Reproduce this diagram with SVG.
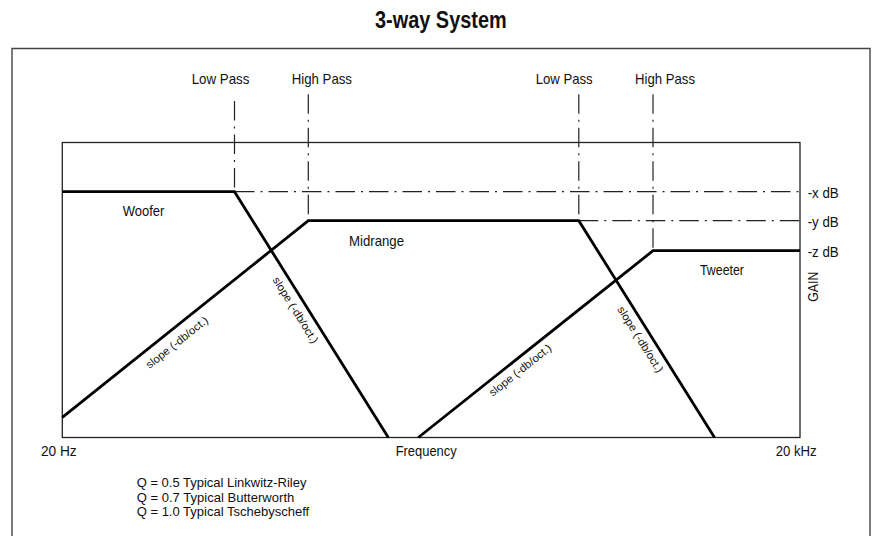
<svg xmlns="http://www.w3.org/2000/svg" width="875" height="536" viewBox="0 0 875 536">
<style>
.t{font-family:"Liberation Sans",Arial,sans-serif;font-size:14.5px;fill:#111;}
.q{font-family:"Liberation Sans",Arial,sans-serif;font-size:13px;fill:#111;}
.s{font-family:"Liberation Sans",Arial,sans-serif;font-size:11px;fill:#111;text-anchor:middle;}
.title{font-family:"Liberation Sans",Arial,sans-serif;font-size:24.5px;font-weight:bold;fill:#111;}
.curve{fill:none;stroke:#000;stroke-width:2.8;stroke-linejoin:miter;}
.dd{fill:none;stroke:#222;stroke-width:1.2;stroke-dasharray:19.5 6 2 6;}
.frame{fill:none;stroke:#444;stroke-width:1.4;}
.box{fill:none;stroke:#222;stroke-width:1.3;}
</style>
<rect width="875" height="536" fill="#fff"/>
<text class="title" x="375" y="28.3" textLength="131.7" lengthAdjust="spacingAndGlyphs">3-way System</text>
<path class="frame" d="M12,540 V48.5 H870 V540"/>
<rect class="box" x="62.3" y="142.5" width="737.7" height="295"/>
<g id="guides">
<path class="dd" d="M234.5,101 V191.7"/>
<path class="dd" d="M308.3,94.3 V220.7"/>
<path class="dd" d="M578.8,94.3 V220.7"/>
<path class="dd" d="M653,94.3 V250.7"/>
<path class="dd" d="M235,191.7 H800"/>
<path class="dd" d="M578.8,220.7 H800"/>
</g>
<g id="curves">
<path id="woofer" class="curve" d="M62.3,191.7 H234.5 L388.3,437.5"/>
<path id="midrange" class="curve" d="M62.3,417.3 L308.3,220.7 H578.8 L714.5,437.5"/>
<path id="tweeter" class="curve" d="M418.3,437.5 L653,250.7 H800"/>
</g>
<g id="labels">
<text class="t" x="191.7" y="84.3" textLength="57.7" lengthAdjust="spacingAndGlyphs">Low Pass</text>
<text class="t" x="291.7" y="84.3" textLength="60.3" lengthAdjust="spacingAndGlyphs">High Pass</text>
<text class="t" x="535.7" y="84.3" textLength="57" lengthAdjust="spacingAndGlyphs">Low Pass</text>
<text class="t" x="635" y="84.3" textLength="60" lengthAdjust="spacingAndGlyphs">High Pass</text>
<text class="t" x="807.7" y="198.3" textLength="31" lengthAdjust="spacingAndGlyphs">-x dB</text>
<text class="t" x="807.7" y="227" textLength="31" lengthAdjust="spacingAndGlyphs">-y dB</text>
<text class="t" x="807.7" y="256.5" textLength="31" lengthAdjust="spacingAndGlyphs">-z dB</text>
<text class="t" transform="translate(818.3,301.7) rotate(-90)" textLength="30" lengthAdjust="spacingAndGlyphs">GAIN</text>
<text class="t" x="122.7" y="216" textLength="41.7" lengthAdjust="spacingAndGlyphs">Woofer</text>
<text class="t" x="349" y="246" textLength="55" lengthAdjust="spacingAndGlyphs">Midrange</text>
<text class="t" x="700" y="275" textLength="44" lengthAdjust="spacingAndGlyphs">Tweeter</text>
<text class="t" x="41" y="455.7" textLength="35.7" lengthAdjust="spacingAndGlyphs">20 Hz</text>
<text class="t" x="395.7" y="455.7" textLength="61" lengthAdjust="spacingAndGlyphs">Frequency</text>
<text class="t" x="775.7" y="455.7" textLength="41" lengthAdjust="spacingAndGlyphs">20 kHz</text>
<text class="q" x="136.7" y="487.3" textLength="169.7" lengthAdjust="spacingAndGlyphs">Q = 0.5 Typical Linkwitz-Riley</text>
<text class="q" x="136.7" y="501.7" textLength="157.6" lengthAdjust="spacingAndGlyphs">Q = 0.7 Typical Butterworth</text>
<text class="q" x="136.7" y="515.7" textLength="172.5" lengthAdjust="spacingAndGlyphs">Q = 1.0 Typical Tschebyscheff</text>
<text class="s" transform="translate(179.2,345.4) rotate(-38.6)" textLength="76" lengthAdjust="spacingAndGlyphs">slope (-db/oct.)</text>
<text class="s" transform="translate(292.3,312.1) rotate(58)" textLength="76" lengthAdjust="spacingAndGlyphs">slope (-db/oct.)</text>
<text class="s" transform="translate(522.5,373.1) rotate(-38.55)" textLength="76" lengthAdjust="spacingAndGlyphs">slope (-db/oct.)</text>
<text class="s" transform="translate(637.3,341.4) rotate(57.9)" textLength="76" lengthAdjust="spacingAndGlyphs">slope (-db/oct.)</text>
</g>
</svg>
